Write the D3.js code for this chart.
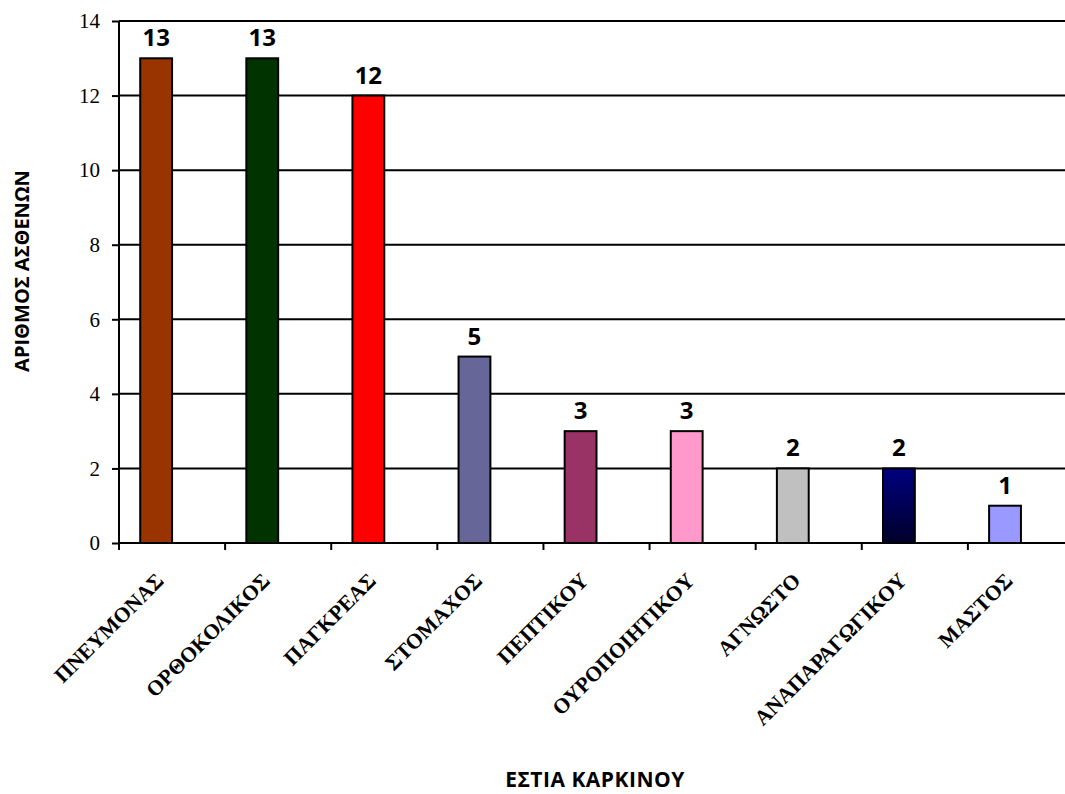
<!DOCTYPE html>
<html>
<head>
<meta charset="utf-8">
<script src="https://cdn.jsdelivr.net/npm/d3@7"></script>
<style>
  html, body { margin: 0; padding: 0; background: #ffffff; overflow: hidden; }
  svg { display: block; }
</style>
</head>
<body>
<svg id="chart" width="1065" height="794"></svg>
<script>
// Cancer sites and number of patients per site
const categories = ["ΠΝΕΥΜΟΝΑΣ", "ΟΡΘΟΚΟΛΙΚΟΣ", "ΠΑΓΚΡΕΑΣ", "ΣΤΟΜΑΧΟΣ", "ΠΕΠΤΙΚΟΥ",
                    "ΟΥΡΟΠΟΙΗΤΙΚΟΥ", "ΑΓΝΩΣΤΟ", "ΑΝΑΠΑΡΑΓΩΓΙΚΟΥ", "ΜΑΣΤΟΣ"];
const patients = [13, 13, 12, 5, 3, 3, 2, 2, 1];
const barColors = ["#993300", "#003300", "#ff0000", "#666699", "#993366",
                   "#ff99cc", "#c0c0c0", "url(#navyFade)", "#9999ff"];
const yTicks = [0, 2, 4, 6, 8, 10, 12, 14];
const xTitle = "ΕΣΤΙΑ ΚΑΡΚΙΝΟΥ";
const yTitle = "ΑΡΙΘΜΟΣ ΑΣΘΕΝΩΝ";

const SERIF = '"Liberation Serif", "Times New Roman", serif';
const SANS = '"Open Sans", "Noto Sans", sans-serif';

const svg = d3.select("#chart");
const plot = { left: 119, right: 1074, top: 21, bottom: 543 };

// Gradient for the navy bar
const defs = svg.append("defs");
const grad = defs.append("linearGradient")
  .attr("id", "navyFade").attr("x1", 0).attr("y1", 0).attr("x2", 0).attr("y2", 1);
grad.append("stop").attr("offset", "0%").attr("stop-color", "#000080");
grad.append("stop").attr("offset", "100%").attr("stop-color", "#00002a");

const x = d3.scaleBand().domain(categories).range([plot.left, plot.right]).paddingInner(0).paddingOuter(0);
const y = d3.scaleLinear().domain([0, 14]).range([plot.bottom, plot.top]);

// Horizontal gridlines
svg.append("g")
  .selectAll("line")
  .data(yTicks.filter(d => d > 0))
  .join("line")
  .attr("x1", plot.left).attr("x2", plot.right)
  .attr("y1", d => y(d)).attr("y2", d => y(d))
  .attr("stroke", "#000").attr("stroke-width", 2);

// Bars
const bw = x.bandwidth();
svg.append("g")
  .selectAll("rect")
  .data(categories)
  .join("rect")
  .attr("x", d => x(d) + bw * 0.2)
  .attr("width", bw * 0.3)
  .attr("y", (d, i) => y(patients[i]))
  .attr("height", (d, i) => y(0) - y(patients[i]))
  .attr("fill", (d, i) => barColors[i])
  .attr("stroke", "#000").attr("stroke-width", 2);

// Value labels above bars
svg.append("g")
  .selectAll("text")
  .data(categories)
  .join("text")
  .style("font-family", SANS)
  .attr("x", d => x(d) + bw * 0.35)
  .attr("y", (d, i) => y(patients[i]) - 12)
  .attr("text-anchor", "middle")
  .attr("font-weight", "bold")
  .attr("font-size", 24)
  .attr("fill", "#000")
  .text((d, i) => patients[i]);

// Y axis
const yAxis = svg.append("g")
  .attr("transform", `translate(${plot.left},0)`)
  .call(d3.axisLeft(y).tickValues(yTicks).tickSize(7).tickPadding(12).tickFormat(d3.format("d")));
yAxis.select(".domain").attr("stroke", "#000").attr("stroke-width", 2)
  .attr("d", `M0,${plot.top}V${plot.bottom + 7}`);
yAxis.selectAll(".tick line").attr("stroke", "#000").attr("stroke-width", 2);
yAxis.selectAll(".tick text")
  .style("font-family", SERIF)
  .style("font-size", "21px")
  .attr("fill", "#000");

// X axis: tick marks on category boundaries
const xAxis = svg.append("g")
  .attr("transform", `translate(0,${plot.bottom})`);
xAxis.append("line")
  .attr("x1", plot.left).attr("x2", plot.right)
  .attr("stroke", "#000").attr("stroke-width", 2);
xAxis.selectAll("line.tick")
  .data(categories.slice(1))
  .join("line")
  .attr("class", "tick")
  .attr("x1", d => x(d)).attr("x2", d => x(d))
  .attr("y1", 0).attr("y2", 7)
  .attr("stroke", "#000").attr("stroke-width", 2);

// Rotated category labels
svg.append("g")
  .selectAll("text")
  .data(categories)
  .join("text")
  .style("font-family", SERIF)
  .attr("transform", d => `translate(${x(d) + bw / 2 - 7},${plot.bottom + 39}) rotate(-45)`)
  .attr("text-anchor", "end")
  .attr("font-weight", "bold")
  .attr("font-size", 21.5)
  .attr("fill", "#000")
  .text(d => d);

// Axis titles
svg.append("text")
  .style("font-family", SANS)
  .attr("x", 595).attr("y", 787)
  .attr("text-anchor", "middle")
  .attr("font-weight", "bold")
  .attr("font-size", 21)
  .attr("letter-spacing", 0.5)
  .attr("fill", "#000")
  .text(xTitle);

svg.append("text")
  .style("font-family", SANS)
  .attr("transform", "translate(29,271) rotate(-90)")
  .attr("text-anchor", "middle")
  .attr("font-weight", "bold")
  .attr("font-size", 20)
  .attr("fill", "#000")
  .text(yTitle);
</script>
</body>
</html>
